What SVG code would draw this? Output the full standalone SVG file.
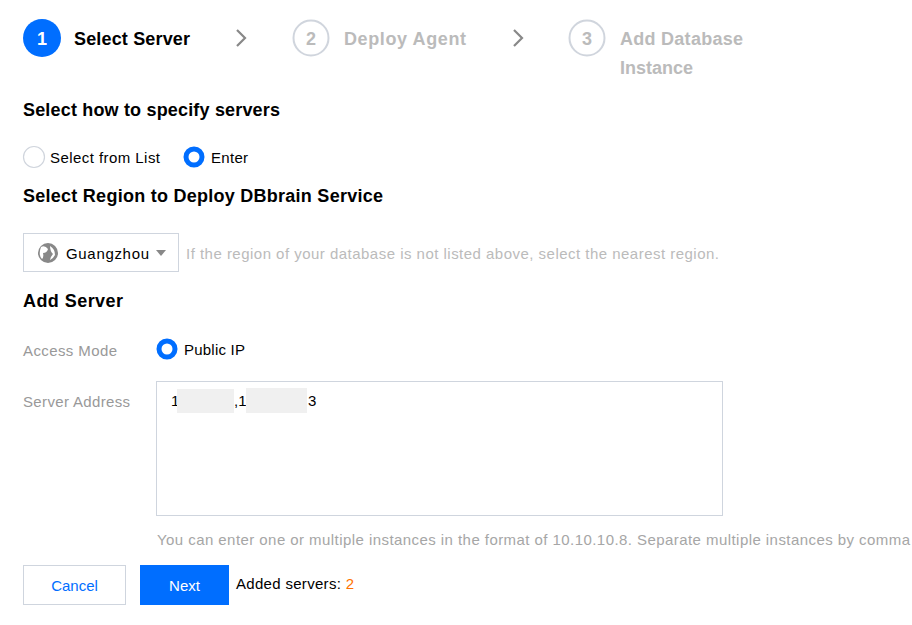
<svg xmlns="http://www.w3.org/2000/svg" width="912" height="625" viewBox="0 0 912 625">
<style>
text{font-family:"Liberation Sans","Noto Sans",Arial,sans-serif;}
.h{font-size:18px;font-weight:bold;fill:#000;}
.step{font-size:18px;font-weight:bold;}
.t{font-size:15px;fill:#000;}
.g{font-size:15px;fill:#a6a6a6;}
.lbl{font-size:15px;fill:#999;}
.box{fill:#fff;stroke:#cfd5de;stroke-width:1;}
.chev{fill:none;stroke:#888;stroke-width:2.2;}
</style>
<rect width="912" height="625" fill="#fff"/>
<g id="steps">
<g id="step1">
<circle cx="42" cy="38" r="19" fill="#006eff"/>
<text x="42" y="45" class="step" fill="#fff" text-anchor="middle" font-size="20">1</text>
<text x="74" y="45" class="step" fill="#000" textLength="116">Select Server</text>
</g>
<path class="chev" d="M237,30 L245,38 L237,46"/>
<g id="step2">
<circle cx="311" cy="38" r="17.5" fill="#fff" stroke="#d0d5dd" stroke-width="2"/>
<text x="311" y="45" class="step" fill="#bbb" text-anchor="middle" font-size="20">2</text>
<text x="344" y="45" class="step" fill="#bbb" textLength="122">Deploy Agent</text>
</g>
<path class="chev" d="M514,30 L522,38 L514,46"/>
<g id="step3">
<circle cx="587" cy="38" r="17.5" fill="#fff" stroke="#d0d5dd" stroke-width="2"/>
<text x="587" y="45" class="step" fill="#bbb" text-anchor="middle" font-size="20">3</text>
<text x="620" y="45" class="step" fill="#bbb" textLength="123">Add Database</text>
<text x="620" y="74" class="step" fill="#bbb" textLength="73">Instance</text>
</g>
</g>
<g id="specify">
<text x="23" y="116" class="h" textLength="257">Select how to specify servers</text>
<circle cx="34" cy="157" r="10.5" fill="#fff" stroke="#d0d5dd" stroke-width="1.2"/>
<text x="50" y="163" class="t" textLength="110">Select from List</text>
<circle cx="194" cy="157" r="8" fill="#fff" stroke="#006eff" stroke-width="5"/>
<text x="211" y="163" class="t" textLength="37">Enter</text>
</g>
<g id="region">
<text x="23" y="202" class="h" textLength="360">Select Region to Deploy DBbrain Service</text>
<rect x="23.5" y="233.5" width="155" height="38" class="box"/>
<circle cx="48" cy="253" r="10" fill="#888"/>
<path d="M41,247 Q45,245 48,249 Q47,253 43,253 Q44,257 42,259 Q38,255 41,247 Z M50,246 Q55,249 55,255 Q53,259 50,260 Q51,256 53,254 Q50,251 50,246 Z" fill="#fff"/>
<text x="66" y="259" class="t" textLength="83">Guangzhou</text>
<path d="M156,250 L166,250 L161,256 Z" fill="#888"/>
<text x="186" y="259" class="g" style="fill:#bbb" textLength="533">If the region of your database is not listed above, select the nearest region.</text>
</g>
<g id="addserver">
<text x="23" y="307" class="h" textLength="100">Add Server</text>
<text x="23" y="356" class="lbl" textLength="94">Access Mode</text>
<circle cx="167" cy="349" r="8" fill="#fff" stroke="#006eff" stroke-width="5"/>
<text x="184" y="355" class="t" textLength="61">Public IP</text>
<text x="23" y="407" class="lbl" textLength="107">Server Address</text>
<rect x="156.5" y="381.5" width="566" height="134" class="box"/>
<text x="171" y="406" class="t">1</text>
<rect x="177" y="389" width="57" height="24" fill="#f0f0f0"/>
<text x="234" y="406" class="t">,1</text>
<rect x="246" y="388" width="61" height="25" fill="#f0f0f0"/>
<text x="308" y="406" class="t">3</text>
<text x="157" y="545" class="g" textLength="753">You can enter one or multiple instances in the format of 10.10.10.8. Separate multiple instances by comma</text>
</g>
<g id="buttons">
<rect x="23.5" y="565.5" width="102" height="39" class="box"/>
<text x="74.5" y="591" class="t" style="fill:#006eff" text-anchor="middle">Cancel</text>
<rect x="140" y="565" width="89" height="40" fill="#006eff"/>
<text x="184.5" y="591" class="t" style="fill:#fff" text-anchor="middle">Next</text>
<text x="236" y="589" class="t" textLength="118">Added servers: <tspan style="fill:#ff7200">2</tspan></text>
</g>
</svg>
